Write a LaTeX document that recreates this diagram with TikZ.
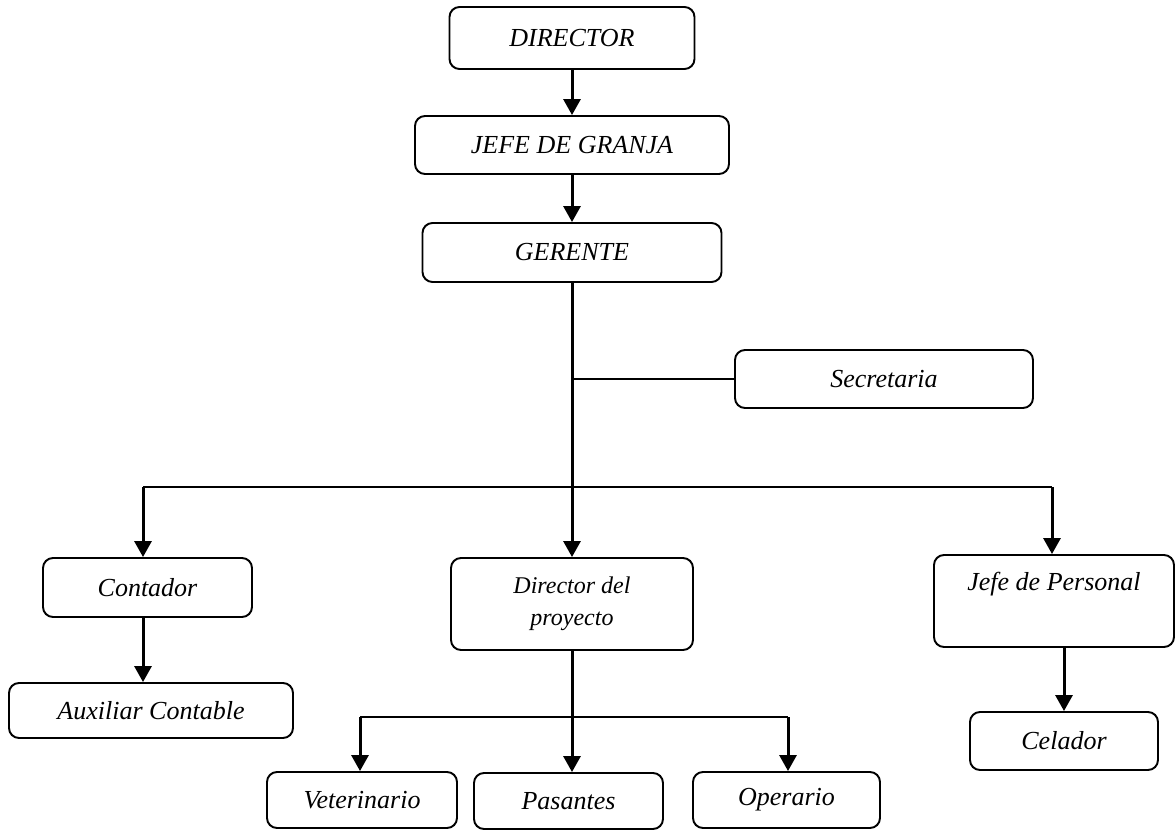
\documentclass[tikz,border=0pt]{standalone}
\usepackage{fontspec}
\setmainfont{Liberation Serif}
\usetikzlibrary{arrows.meta}
\tikzset{
  box/.style={draw, line width=1.9pt, rounded corners=10pt, inner sep=0pt,
    font=\fontsize{26}{30}\selectfont\itshape, align=center},
  arr/.style={line width=3pt, -{Triangle[width=17pt,length=16pt]}},
  conn/.style={line width=2.2pt},
}
\begin{document}
\begin{tikzpicture}[x=1pt,y=-1pt]
\useasboundingbox (0,0) rectangle (1176,830);
\node[box, minimum width=245pt, minimum height=62pt] (dir) at (572,38) {DIRECTOR};
\node[box, minimum width=314pt, minimum height=58pt] (jefe) at (572,145) {JEFE DE GRANJA};
\node[box, minimum width=299pt, minimum height=59pt] (ger) at (572,252.5) {GERENTE};
\node[box, minimum width=298pt, minimum height=58pt] (sec) at (884,379) {Secretaria};
\node[box, minimum width=209pt, minimum height=59pt] (cont) at (147.5,587.5) {Contador};
\node[box, minimum width=284pt, minimum height=55pt] (aux) at (151,710.5) {Auxiliar Contable};
\node[box, minimum width=242pt, minimum height=92pt, font=\fontsize{24}{32}\selectfont\itshape] (dp) at (572,604) {Director del\\proyecto};
\node[box, minimum width=240pt, minimum height=92pt] (jp) at (1054,601) {Jefe de Personal\\\strut};
\node[box, minimum width=188pt, minimum height=58pt] (cel) at (1064,741) {Celador};
\node[box, minimum width=190pt, minimum height=56pt] (vet) at (362,800) {Veterinario};
\node[box, minimum width=189pt, minimum height=56pt] (pas) at (568.5,801) {Pasantes};
\node[box, minimum width=187pt, minimum height=56pt] (ope) at (786.5,800) {Operario};

\coordinate (bl) at (143,487);
\coordinate (br) at (1052,487);
\coordinate (vl) at (360,717);
\coordinate (vr) at (788,717);

\draw[arr] (dir.south) -- (jefe.north);
\draw[arr] (jefe.south) -- (ger.north);
\draw[arr] (ger.south) -- (dp.north);
\draw[conn] (ger.south |- sec.west) -- (sec.west);
\draw[conn] (bl) -- (br);
\draw[arr] (bl) -- (bl |- cont.north);
\draw[arr] (br) -- (br |- jp.north);
\draw[arr] (bl |- cont.south) -- (bl |- aux.north);
\draw[arr] (dp.south) -- (dp.south |- pas.north);
\draw[conn] (vl) -- (vr);
\draw[arr] (vl) -- (vl |- vet.north);
\draw[arr] (vr) -- (vr |- ope.north);
\draw[arr] (cel.north |- jp.south) -- (cel.north);
\end{tikzpicture}
\end{document}
